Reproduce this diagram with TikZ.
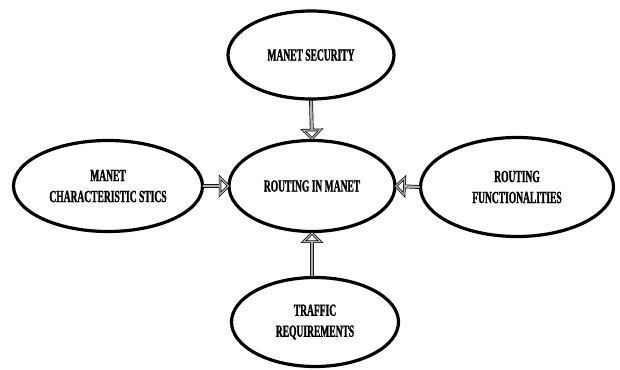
\documentclass[tikz,border=0pt]{standalone}
\usepackage{fontspec}
\newfontfamily\lblfont[FakeStretch=0.56,FakeBold=1.2]{Liberation Serif Bold}
\usetikzlibrary{shapes.geometric,shapes.arrows}
\tikzset{
  oval/.style={ellipse, draw=black, line width=3.2pt, inner sep=0pt, align=center,
    font=\lblfont\fontsize{17}{21}\selectfont},
  barrow/.style={single arrow, sloped, allow upside down, draw=black, line width=0.7pt, double=gray!60,
    double distance=1.2pt, fill=white, inner sep=0pt, minimum width=17pt,
    single arrow head extend=4.5pt, single arrow head indent=0pt}
}
\begin{document}
\begin{tikzpicture}[x=1pt,y=-1pt]
\useasboundingbox (0,0) rectangle (620,369);
\node[oval, minimum width=166pt, minimum height=88pt] (sec) at (311,55) {MANET SECURITY};
\node[oval, minimum width=166pt, minimum height=91pt] (mid) at (312,186) {ROUTING IN MANET};
\node[oval, minimum width=189pt, minimum height=91pt] (chr) at (108,186) {MANET\\CHARACTERISTIC STICS};
\node[oval, minimum width=193pt, minimum height=99pt] (fun) at (517,187) {ROUTING\\FUNCTIONALITIES};
\node[oval, minimum width=167pt, minimum height=89pt] (tra) at (315,322) {TRAFFIC\\REQUIREMENTS};
\path (sec.south) -- node[barrow, minimum height=37pt] {} (mid.north);
\path (tra.north -| mid.south) -- node[barrow, minimum height=42pt] {} (mid.south);
\path (chr.east) -- node[barrow, minimum height=25pt] {} (mid.west);
\path (fun.west) -- node[barrow, minimum height=23pt] {} (mid.east);
\end{tikzpicture}
\end{document}
